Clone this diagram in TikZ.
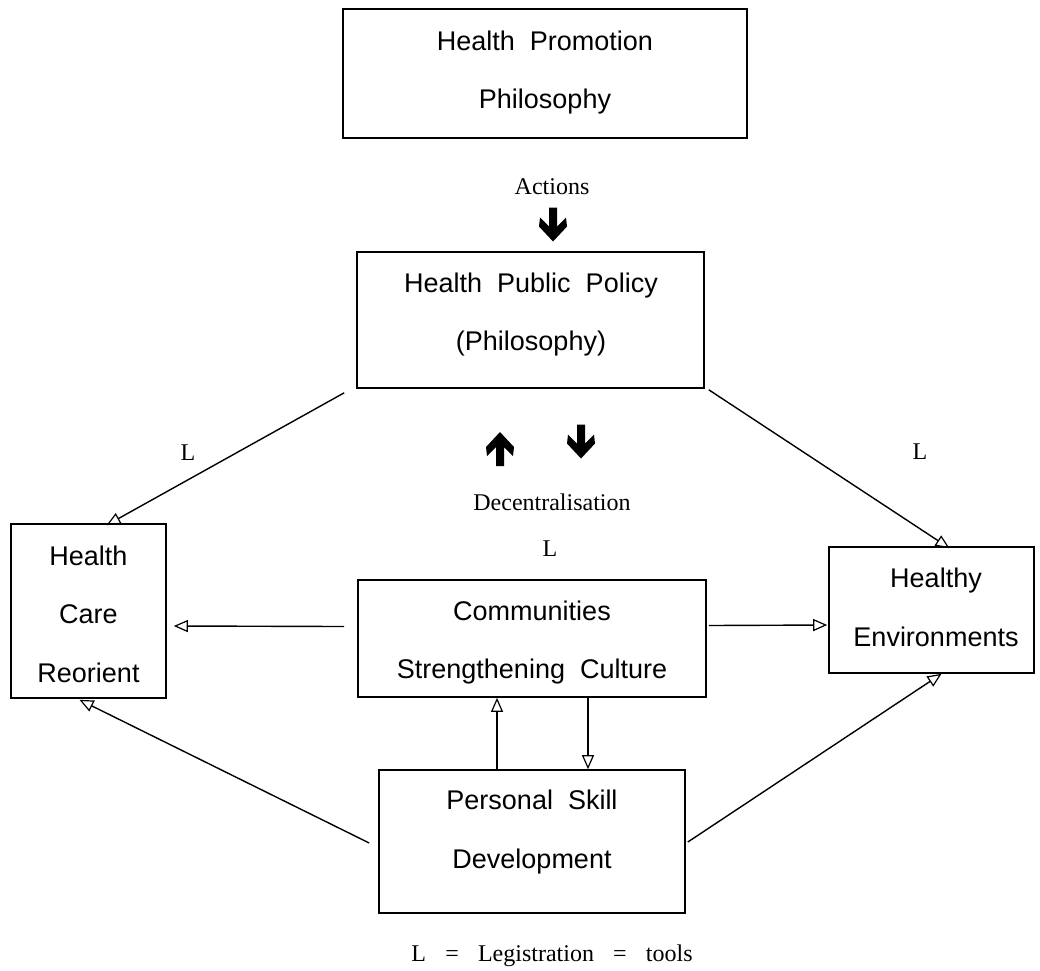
\documentclass[tikz,border=0pt]{standalone}
\usepackage{fontspec}
\setmainfont{Liberation Serif}
\newfontfamily\boxfont[WordSpace=2]{Liberation Sans}
\usetikzlibrary{arrows.meta,calc}
\begin{document}
\begin{tikzpicture}[x=1pt,y=-1pt,
  box/.style={draw, line width=1.6pt, inner sep=0pt},
  btxt/.style={font=\boxfont\fontsize{27}{30}\selectfont, inner sep=0pt, anchor=base},
  lbl/.style={font=\fontsize{24}{28}\selectfont, inner sep=0pt, anchor=base},
  conn/.style={line width=1.4pt, -{Triangle[open, length=14pt, width=12pt, line width=1.2pt]}},
  bigdown/.pic={\fill (-4,-17)--(4,-17)--(4,2)--(13,-7)--(14,2)--(0,17)--(-14,2)--(-13,-7)--(-4,2)--cycle;}
]
\useasboundingbox (0,0) rectangle (1040,970);

% boxes
\node[box, minimum width=404pt, minimum height=129pt] (hpph) at (545,73.5) {};
\node[box, minimum width=347pt, minimum height=136pt] (hpp) at (530.5,320) {};
\node[box, minimum width=155pt, minimum height=174pt] (hc) at (88.5,611) {};
\node[box, minimum width=348pt, minimum height=117pt] (comm) at (532,638.5) {};
\node[box, minimum width=205pt, minimum height=126pt] (he) at (931.5,610) {};
\node[box, minimum width=306pt, minimum height=143pt] (psd) at (532,841.5) {};

% box texts
\node[btxt] (hpph1) at (545,50) {Health Promotion};
\node[btxt] (hpph2) at (545,108) {Philosophy};
\node[btxt] (hpp1) at (531,292) {Health Public Policy};
\node[btxt] (hpp2) at (531,350) {(Philosophy)};
\node[btxt] (hc1) at (88.5,565) {Health};
\node[btxt] (hc2) at (88.5,623) {Care};
\node[btxt] (hc3) at (88.5,682) {Reorient};
\node[btxt] (comm1) at (532,620) {Communities};
\node[btxt] (comm2) at (532,678) {Strengthening Culture};
\node[btxt] (he1) at (936,587) {Healthy};
\node[btxt] (he2) at (936,646) {Environments};
\node[btxt] (psd1) at (532,809) {Personal Skill};
\node[btxt] (psd2) at (532,868) {Development};

% labels
\node[lbl] (act) at (552,194) {Actions};
\node[lbl] (dec) at (552,510) {Decentralisation};
\node[lbl] (lleft) at (188,460) {L};
\node[lbl] (lright) at (920,459) {L};
\node[lbl] (lmid) at (550,556) {L};
\node[lbl] (cap) at (552,961) {L\hspace{0.8em}=\hspace{0.8em}Legistration\hspace{0.8em}=\hspace{0.8em}tools};

% thick arrows
\pic at (553,224.5) {bigdown};
\pic[rotate=180] at (500,449) {bigdown};
\pic at (581,441.5) {bigdown};

% connectors
\draw[conn] ($(hpp.south west)+(-12,4)$) -- ($(hc.north)+(18,2)$);
\draw[conn] ($(hpp.south east)+(4,1)$) -- ($(he.north)+(18,2)$);
\draw[conn] ($(comm.west)+(-13,-12)$) -- ($(hc.east)+(7,15)$);
\draw[conn] ($(comm.east)+(2,-13)$) -- ($(he.west)+(-1,15)$);
\draw[conn] ($(psd.north)+(-35,0)$) -- ($(comm.south)+(-35,0)$);
\draw[conn] ($(comm.south)+(56,0)$) -- ($(psd.north)+(56,0)$);
\draw[conn] ($(psd.west)+(-9,1.5)$) -- ($(hc.south)+(-9,1)$);
\draw[conn] ($(psd.east)+(2,0.5)$) -- ($(he.south)+(10,0)$);
\end{tikzpicture}
\end{document}
